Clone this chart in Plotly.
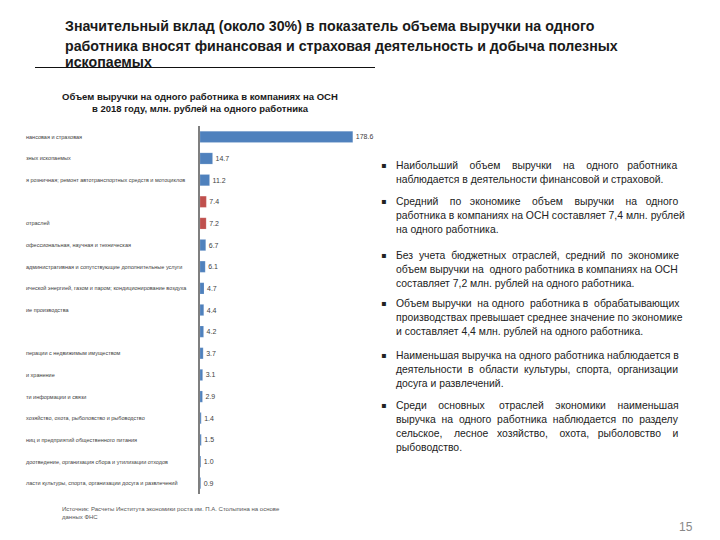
import plotly.graph_objects as go

W, H = 720, 540
OFF = 8  # page body margin in the browser

# ---- data ----
categories = [
    "Деятельность финансовая и страховая",
    "Добыча полезных ископаемых",
    "Торговля оптовая и розничная; ремонт автотранспортных средств и мотоциклов",
    "Среднее по экономике",
    "Среднее без учета бюджетных отраслей",
    "Деятельность профессиональная, научная и техническая",
    "Деятельность административная и сопутствующие дополнительные услуги",
    "Обеспечение электрической энергией, газом и паром; кондиционирование воздуха",
    "Обрабатывающие производства",
    "Строительство",
    "Операции с недвижимым имуществом",
    "Транспортировка и хранение",
    "Деятельность в области информации и связи",
    "Сельское, лесное хозяйство, охота, рыболовство и рыбоводство",
    "Деятельность гостиниц и предприятий общественного питания",
    "Водоснабжение; водоотведение, организация сбора и утилизации отходов",
    "Деятельность в области культуры, спорта, организации досуга и развлечений",
]
# visible (left-clipped) parts of the category labels as they appear in the picture
visible_labels = [
    "нансовая и страховая",
    "зных ископаемых",
    "я розничная; ремонт автотранспортных средств и мотоциклов",
    "",
    "отраслей",
    "офессиональная, научная и техническая",
    "административная и сопутствующие дополнительные услуги",
    "ической энергией, газом и паром; кондиционирование воздуха",
    "ие производства",
    "",
    "перации с недвижимым имуществом",
    "и хранение",
    "ти информации и связи",
    "хозяйство, охота, рыболовство и рыбоводство",
    "ниц и предприятий общественного питания",
    "доотведение, организация сбора и утилизации отходов",
    "ласти культуры, спорта, организации досуга и развлечений",
]
values = [178.6, 14.7, 11.2, 7.4, 7.2, 6.7, 6.1, 4.7, 4.4, 4.2, 3.7, 3.1, 2.9, 1.4, 1.5, 1.0, 0.9]
highlight = [False, False, False, True, True] + [False] * 12

title_lines = [
    "Значительный вклад (около 30%) в показатель объема выручки на одного",
    "работника вносят финансовая и страховая деятельность и добыча полезных",
    "ископаемых",
]
chart_title = ["Объем выручки на одного работника в компаниях на ОСН",
               "в 2018 году, млн. рублей на одного работника"]

paragraphs = [
    ["Наибольший объем выручки на одного работника",
     "наблюдается в деятельности финансовой и страховой."],
    ["Средний по экономике объем выручки на одного",
     "работника в компаниях на ОСН составляет 7,4 млн. рублей",
     "на одного работника."],
    ["Без учета бюджетных отраслей, средний по экономике",
     "объем выручки на одного работника в компаниях на ОСН",
     "составляет 7,2 млн. рублей на одного работника."],
    ["Объем выручки на одного работника в обрабатывающих",
     "производствах превышает среднее значение по экономике",
     "и составляет 4,4 млн. рублей на одного работника."],
    ["Наименьшая выручка на одного работника наблюдается в",
     "деятельности в области культуры, спорта, организации",
     "досуга и развлечений."],
    ["Среди основных отраслей экономики наименьшая",
     "выручка на одного работника наблюдается по разделу",
     "сельское, лесное хозяйство, охота, рыболовство и",
     "рыбоводство."],
]

source_text = "Источник: Расчеты Института экономики роста им. П.А. Столыпина на основе<br>данных ФНС"
page_number = "15"

BLUE = "#4F81BD"
RED = "#C0504D"

# ---- helpers (screen pixels -> paper coords) ----
def py(px):
    return 1 - (px - OFF) / H

def pxx(px):
    return (px - OFF) / W

# approximate Arial / Liberation Sans advance widths (1/1000 em) for justification
_UP = dict(zip("АБВГДЕЖЗИЙКЛМНОПРСТУФХЦЧШЩЪЫЬЭЮЯ",
               [667, 656, 667, 542, 677, 667, 923, 604, 719, 719, 583, 656, 833, 722, 778, 719,
                667, 722, 611, 635, 760, 667, 740, 667, 917, 938, 792, 885, 656, 719, 1010, 722]))
_LO = dict(zip("абвгдежзийклмнопрстуфхцчшщъыьэюяё",
               [556, 573, 531, 365, 583, 556, 669, 458, 559, 559, 438, 583, 688, 552, 556, 542,
                556, 500, 458, 500, 823, 500, 573, 521, 802, 823, 625, 719, 521, 510, 750, 542, 556]))

def char_w(c):
    if c in _UP:
        return _UP[c]
    if c in _LO:
        return _LO[c]
    if c.isdigit():
        return 556
    if c in " ,.;:":
        return 278
    if c in "()":
        return 333
    return 556

def text_w(s, size):
    return sum(char_w(c) for c in s) * size / 1000.0

def justify(line, size, target):
    words = line.split(" ")
    gaps = len(words) - 1
    if gaps <= 0:
        return line
    nat = text_w(line, size)
    sp = 278 * size / 1000.0
    extra_total = max(0.0, (target - nat) / sp)
    out = words[0]
    acc = 0.0
    for i, wd in enumerate(words[1:], start=1):
        acc += extra_total / gaps
        n = int(round(acc))
        acc -= n
        out += " " + "\u00a0" * n + wd
    return out

BODY = 10.4
TARGET = 284

fig = go.Figure()
fig.add_trace(go.Bar(
    x=values, y=categories, orientation="h",
    marker=dict(color=[RED if h else BLUE for h in highlight],
                line=dict(color="rgba(255,255,255,0.3)", width=0.5)),
    texttemplate="%{x:.1f}", textposition="outside",
    textfont=dict(size=7, color="#404040", family="Liberation Sans"),
    cliponaxis=False, width=0.52, hoverinfo="skip",
))

annotations = []
for cat, lab in zip(categories, visible_labels):
    if lab:
        annotations.append(dict(x=pxx(24), xref="paper", y=cat, yref="y",
                                text=lab, showarrow=False, xanchor="left",
                                font=dict(size=5.5, color="#404040", family="Liberation Sans")))

for line, yc in zip(title_lines, [26, 46, 62]):
    annotations.append(dict(x=pxx(63), y=py(yc), xref="paper", yref="paper",
                            xanchor="left", yanchor="middle", align="left",
                            text="<b>" + line + "</b>", showarrow=False,
                            font=dict(size=14.2, color="#1a1a1a", family="Liberation Sans")))
annotations.append(dict(x=pxx(200), y=py(96), xref="paper", yref="paper",
                        xanchor="center", yanchor="middle", align="center",
                        text="<b>" + chart_title[0] + "</b>", showarrow=False,
                        font=dict(size=9.5, color="#1a1a1a", family="Liberation Sans")))
annotations.append(dict(x=pxx(200), y=py(109), xref="paper", yref="paper",
                        xanchor="center", yanchor="middle", align="center",
                        text="<b>" + chart_title[1] + "</b>", showarrow=False,
                        font=dict(size=9.5, color="#1a1a1a", family="Liberation Sans")))

para_first_line = [165, 201, 255, 303, 355, 405]
LINE_H = 14.3
for yc0, lines in zip(para_first_line, paragraphs):
    annotations.append(dict(x=pxx(383), y=py(yc0), xref="paper", yref="paper",
                            xanchor="center", yanchor="middle", text="▪", showarrow=False,
                            font=dict(size=8, color="#222222", family="DejaVu Sans")))
    for i, ln in enumerate(lines):
        txt = ln if i == len(lines) - 1 else justify(ln, BODY, TARGET)
        annotations.append(dict(x=pxx(394), y=py(yc0 + i * LINE_H), xref="paper", yref="paper",
                                xanchor="left", yanchor="middle", align="left",
                                text=txt, showarrow=False,
                                font=dict(size=BODY, color="#222222", family="Liberation Sans")))

annotations.append(dict(x=pxx(60), y=py(504), xref="paper", yref="paper",
                        xanchor="left", yanchor="top", align="left", text=source_text,
                        showarrow=False,
                        font=dict(size=6, color="#555555", family="Liberation Sans")))
annotations.append(dict(x=pxx(686), y=py(527), xref="paper", yref="paper",
                        xanchor="center", yanchor="middle", text=page_number,
                        showarrow=False,
                        font=dict(size=12, color="#888888", family="Liberation Sans")))

fig.update_layout(
    width=W, height=H, margin=dict(l=0, r=0, t=0, b=0),
    paper_bgcolor="white", plot_bgcolor="white",
    showlegend=False, bargap=0.45,
    annotations=annotations,
    shapes=[dict(type="line", xref="paper", yref="paper",
                 x0=pxx(35), x1=pxx(375), y0=py(67.5), y1=py(67.5),
                 line=dict(color="#111111", width=1))],
    xaxis=dict(domain=[pxx(200), pxx(354)], range=[0, 180], visible=False, fixedrange=True),
    yaxis=dict(domain=[py(494), py(126)], autorange="reversed", showticklabels=False,
               showline=True, linecolor="#7f7f7f", linewidth=2, ticks="",
               showgrid=False, zeroline=False),
)

fig.write_html("out.html")
